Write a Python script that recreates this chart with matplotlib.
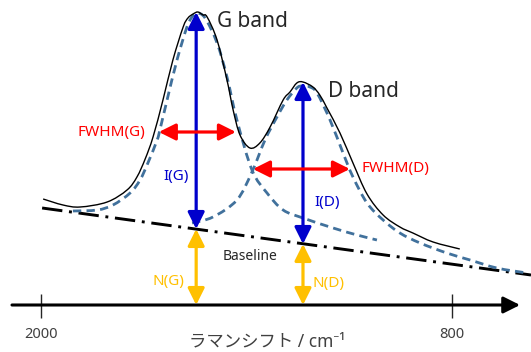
import matplotlib
matplotlib.use("Agg")
import matplotlib.pyplot as plt
from matplotlib.path import Path
from matplotlib.patches import PathPatch

plt.rcParams['font.family'] = ['Noto Sans', 'Noto Sans CJK JP']

# values: x = Raman shift (cm-1), y = intensity (a.u.)
spec_x = [1994, 1936, 1886, 1807, 1749, 1720, 1696, 1673, 1644, 1615, 1585, 1571,
          1556, 1542, 1527, 1515, 1486, 1457, 1439, 1419, 1390, 1361, 1331, 1293,
          1273, 1253, 1235, 1206, 1186, 1165, 1127, 1089, 1048, 1001, 952, 914, 855, 777]
spec_y = [106, 100, 98, 103, 115, 128, 146, 168, 205, 245, 278, 287,
          291, 293, 290, 288, 265, 225, 195, 170, 157, 162, 178, 205,
          213, 222, 223, 218, 210, 197, 172, 142, 111, 90, 78, 72, 63, 56]

g_x = [1907, 1836, 1790, 1740, 1711, 1688, 1661, 1653, 1632, 1603, 1574, 1559,
       1545, 1521, 1486, 1457, 1428, 1384, 1340, 1293, 1235, 1147, 1077, 1019]
g_y = [94, 95, 100, 112, 125, 142, 165, 175, 205, 245, 278, 288,
       292, 287, 262, 228, 185, 135, 112, 95, 87, 77, 70, 65]

d_x = [1559, 1498, 1428, 1384, 1346, 1311, 1282, 1253, 1238, 1215, 1194, 1156,
       1118, 1089, 1048, 1001, 952, 893, 815, 747, 669, 581]
d_y = [82, 88, 105, 133, 165, 188, 205, 217, 219, 218, 212, 185,
       152, 128, 102, 85, 72, 62, 52, 45, 37, 32]

base_x = [1997, 569]
base_y = [97, 30]

g_pos, g_base, g_top = 1547, 76, 293
d_pos, d_base, d_top = 1235, 61, 223
fwhm_g_x, fwhm_g_y = [1656, 1431], 173
fwhm_d_x, fwhm_d_y = [1381, 1098], 136

tick_vals = [2000, 800]
tick_labels = ['2000', '800']

BLUE = '#0000CC'
RED = '#FF0000'
GOLD = '#FFC000'
STEEL = '#41719C'
DARK = '#262626'


def smooth_path(xs, ys):
    # smoothed line through the read points (Catmull-Rom as cubic Bezier)
    pts = list(zip(xs, ys))
    n = len(pts)
    verts = [pts[0]]
    codes = [Path.MOVETO]
    for i in range(n - 1):
        p0 = pts[max(i - 1, 0)]
        p1 = pts[i]
        p2 = pts[i + 1]
        p3 = pts[min(i + 2, n - 1)]
        c1 = (p1[0] + (p2[0] - p0[0]) / 6, p1[1] + (p2[1] - p0[1]) / 6)
        c2 = (p2[0] - (p3[0] - p1[0]) / 6, p2[1] - (p3[1] - p1[1]) / 6)
        verts += [c1, c2, p2]
        codes += [Path.CURVE4] * 3
    return Path(verts, codes)


def curve(ax, xs, ys, **kw):
    ax.add_patch(PathPatch(smooth_path(xs, ys), fill=False, capstyle='butt', **kw))


def arrow(ax, x0, y0, x1, y1, color, style='<|-|>', lw=2.3):
    ax.annotate('', xy=(x1, y1), xytext=(x0, y0),
                arrowprops=dict(arrowstyle=f'{style},head_length=0.5,head_width=0.25',
                                color=color, lw=lw, shrinkA=0, shrinkB=0,
                                mutation_scale=20),
                zorder=5)


fig = plt.figure(figsize=(5.31, 3.52), dpi=100)
ax = fig.add_axes([0, 0, 1, 1])
ax.set_xlim(2120, 569)
ax.set_ylim(-47, 305)
ax.axis('off')

# curves
ax.plot(base_x, base_y, color='black', lw=2.1, linestyle=(0, (7, 2.3, 1, 2.3)), zorder=2)
curve(ax, g_x, g_y, edgecolor=STEEL, lw=2.0, linestyle=(0, (3, 1.9)), zorder=3)
curve(ax, d_x, d_y, edgecolor=STEEL, lw=2.0, linestyle=(0, (3, 1.9)), zorder=3)
curve(ax, spec_x, spec_y, edgecolor='black', lw=1.0, zorder=4)

# x axis with arrow
arrow(ax, 2085, 0, 601, 0, 'black', style='-|>', lw=2.2)
ax.vlines(tick_vals, -13, 11, color=DARK, lw=1.0)
for v, lab in zip(tick_vals, tick_labels):
    ax.text(v, -30, lab, ha='center', va='center', fontsize=10.5, color='#404040')
ax.text(1340, -36, 'ラマンシフト / cm\u207b\u00b9', ha='center', va='center',
        fontsize=12.5, color='#404040')

# intensity arrows
arrow(ax, g_pos, g_base, g_pos, g_top, BLUE)
arrow(ax, d_pos, d_base, d_pos, d_top, BLUE)
arrow(ax, g_pos, 0, g_pos, g_base, GOLD)
arrow(ax, d_pos, 0, d_pos, d_base, GOLD)
arrow(ax, fwhm_g_x[0], fwhm_g_y, fwhm_g_x[1], fwhm_g_y, RED)
arrow(ax, fwhm_d_x[0], fwhm_d_y, fwhm_d_x[1], fwhm_d_y, RED)

# labels
ax.text(1486, 278, 'G band', fontsize=15, color=DARK, va='baseline')
ax.text(1162, 208, 'D band', fontsize=15, color=DARK, va='baseline')
ax.text(1696, 169, 'FWHM(G)', fontsize=11, color=RED, ha='right', va='baseline')
ax.text(1063, 133, 'FWHM(D)', fontsize=11, color=RED, va='baseline')
ax.text(1644, 125, 'I(G)', fontsize=11, color=BLUE, va='baseline')
ax.text(1203, 99, 'I(D)', fontsize=11, color=BLUE, va='baseline')
ax.text(1580, 20, 'N(G)', fontsize=11, color=GOLD, ha='right', va='baseline')
ax.text(1206, 18, 'N(D)', fontsize=11, color=GOLD, va='baseline')
ax.text(1390, 45, 'Baseline', fontsize=10, color=DARK, ha='center', va='baseline')

fig.savefig('out.png', dpi=100)
